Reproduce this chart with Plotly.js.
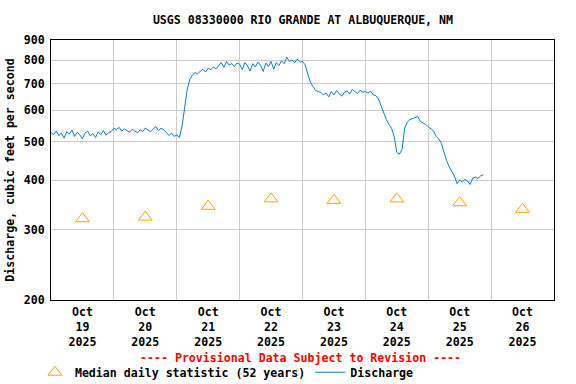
<!DOCTYPE html>
<html>
<head>
<meta charset="utf-8">
<script src="https://cdn.plot.ly/plotly-3.0.1.min.js"></script>
<style>html,body{margin:0;padding:0;background:#fff;}#chart{width:576px;height:384px;}</style>
</head>
<body>
<div id="chart"></div>
<script>
// Discharge, hourly readings starting 2025-10-19 00:00 (cfs)
var dischargeStart = '2025-10-19';
var discharge = [
  // Oct 19
  527, 520, 532, 518, 525, 510, 530, 522, 535, 515, 528, 520, 508, 526, 531, 517, 524, 512, 529, 521, 533, 519, 527, 530,
  // Oct 20
  540, 536, 543, 531, 538, 534, 528, 537, 532, 526, 535, 530, 541, 536, 529, 538, 545, 533, 540, 536, 528, 518, 525, 515,
  // Oct 21
  520, 512, 545, 600, 675, 718, 735, 745, 740, 752, 760, 748, 765, 758, 770, 762, 775, 790, 768, 795, 778, 785, 772, 788,
  // Oct 22
  782, 758, 790, 775, 752, 785, 770, 792, 778, 750, 788, 772, 795, 760, 790, 776, 798, 785, 815, 795, 802, 790, 805, 792,
  // Oct 23
  795, 780, 740, 705, 688, 672, 668, 665, 655, 662, 648, 668, 655, 672, 660, 650, 665, 670, 658, 676, 668, 660, 673, 665,
  // Oct 24
  668, 662, 670, 655, 652, 640, 615, 590, 568, 552, 540, 515, 470, 465, 478, 540, 560, 568, 572, 575, 578, 562, 558, 552,
  // Oct 25
  545, 538, 532, 515, 508, 495, 470, 448, 432, 420, 410, 392, 400, 396, 402, 398, 390, 405, 407, 404, 410, 413
];

// Median daily statistic (52 years), one per day
var medianDays = ['2025-10-19 12:00', '2025-10-20 12:00', '2025-10-21 12:00', '2025-10-22 12:00',
                  '2025-10-23 12:00', '2025-10-24 12:00', '2025-10-25 12:00', '2025-10-26 12:00'];
var medianValues = [320, 323, 344, 359, 356, 359, 351, 338];

// Axis ticks
var dayLabels = ['Oct<br>19<br>2025', 'Oct<br>20<br>2025', 'Oct<br>21<br>2025', 'Oct<br>22<br>2025',
                 'Oct<br>23<br>2025', 'Oct<br>24<br>2025', 'Oct<br>25<br>2025', 'Oct<br>26<br>2025'];
var dayBoundaries = ['2025-10-19', '2025-10-20', '2025-10-21', '2025-10-22', '2025-10-23',
                     '2025-10-24', '2025-10-25', '2025-10-26', '2025-10-27'];
var yTicks = [200, 300, 400, 500, 600, 700, 800, 900];

function pad(n) { return (n < 10 ? '0' : '') + n; }
var dischargeTimes = discharge.map(function (v, i) {
  var day = 19 + Math.floor(i / 24);
  var h = i % 24;
  return '2025-10-' + pad(day) + ' ' + pad(h) + ':00';
});

var FONT = 'DejaVu Sans Mono, monospace';
var FS = 11.6;
var xRange = ['2025-10-19 00:00', '2025-10-27 00:00'];

var traces = [
  {
    x: medianDays, y: medianValues, type: 'scatter', mode: 'markers',
    name: 'Median daily statistic (52 years)',
    marker: { symbol: 'triangle-up-open', size: 12, color: '#FFA000', line: { width: 1, color: '#FFA000' } },
    xaxis: 'x', yaxis: 'y'
  },
  {
    x: dischargeTimes, y: discharge, type: 'scatter', mode: 'lines',
    name: 'Discharge',
    line: { color: '#0A7DCC', width: 1 },
    xaxis: 'x', yaxis: 'y'
  }
];

var layout = {
  width: 576, height: 384,
  paper_bgcolor: '#ffffff', plot_bgcolor: '#ffffff',
  margin: { l: 51, r: 22, t: 40, b: 84, autoexpand: false },
  font: { family: FONT, size: FS, color: '#000', weight: 'bold' },
  title: {
    text: 'USGS 08330000 RIO GRANDE AT ALBUQUERQUE, NM',
    font: { family: FONT, size: FS, color: '#000', weight: 'bold' },
    x: 0.526, xanchor: 'center', y: 0.948, yanchor: 'middle'
  },
  showlegend: true,
  legend: {
    orientation: 'h', x: -0.032, xanchor: 'left', y: -0.222, yanchor: 'top',
    font: { family: FONT, size: FS, color: '#000', weight: 'bold' },
    bgcolor: 'rgba(0,0,0,0)', itemclick: false
  },
  xaxis: {
    type: 'date', range: xRange,
    tickmode: 'array', tickvals: dayBoundaries, showticklabels: false, ticks: '',
    showgrid: true, gridcolor: '#cccccc', gridwidth: 1,
    showline: true, linecolor: '#000', linewidth: 1, mirror: true, zeroline: false
  },
  xaxis2: {
    type: 'date', range: xRange, overlaying: 'x', side: 'bottom', anchor: 'y',
    tickmode: 'array', tickvals: medianDays, ticktext: dayLabels, ticks: '',
    ticklabelstandoff: 3,
    showgrid: false, showline: false, zeroline: false,
    tickfont: { family: FONT, size: FS, color: '#000', weight: 'bold' }
  },
  yaxis: {
    type: 'log', range: [Math.log10(200), Math.log10(900)],
    tickmode: 'array', tickvals: yTicks, ticktext: yTicks.map(String), ticks: '',
    ticklabelstandoff: 3,
    showgrid: true, gridcolor: '#cccccc', gridwidth: 1,
    showline: true, linecolor: '#000', linewidth: 1, mirror: true, zeroline: false,
    tickfont: { family: FONT, size: FS, color: '#000', weight: 'bold' },
    title: { text: 'Discharge, cubic feet per second', standoff: 6,
             font: { family: FONT, size: FS, color: '#000', weight: 'bold' } }
  },
  annotations: [
    {
      text: '---- Provisional Data Subject to Revision ----',
      xref: 'paper', yref: 'paper', x: 0.497, y: -0.223, xanchor: 'center', yanchor: 'middle',
      showarrow: false, font: { family: FONT, size: FS, color: '#ff0000', weight: 'bold' }
    }
  ]
};

// invisible trace that activates xaxis2, which carries the day labels
traces.push({ x: medianDays, y: medianValues, xaxis: 'x2', yaxis: 'y', type: 'scatter', mode: 'markers',
              marker: { opacity: 0 }, showlegend: false, hoverinfo: 'skip' });

Plotly.newPlot('chart', traces, layout, { displayModeBar: false, staticPlot: true });
</script>
</body>
</html>
